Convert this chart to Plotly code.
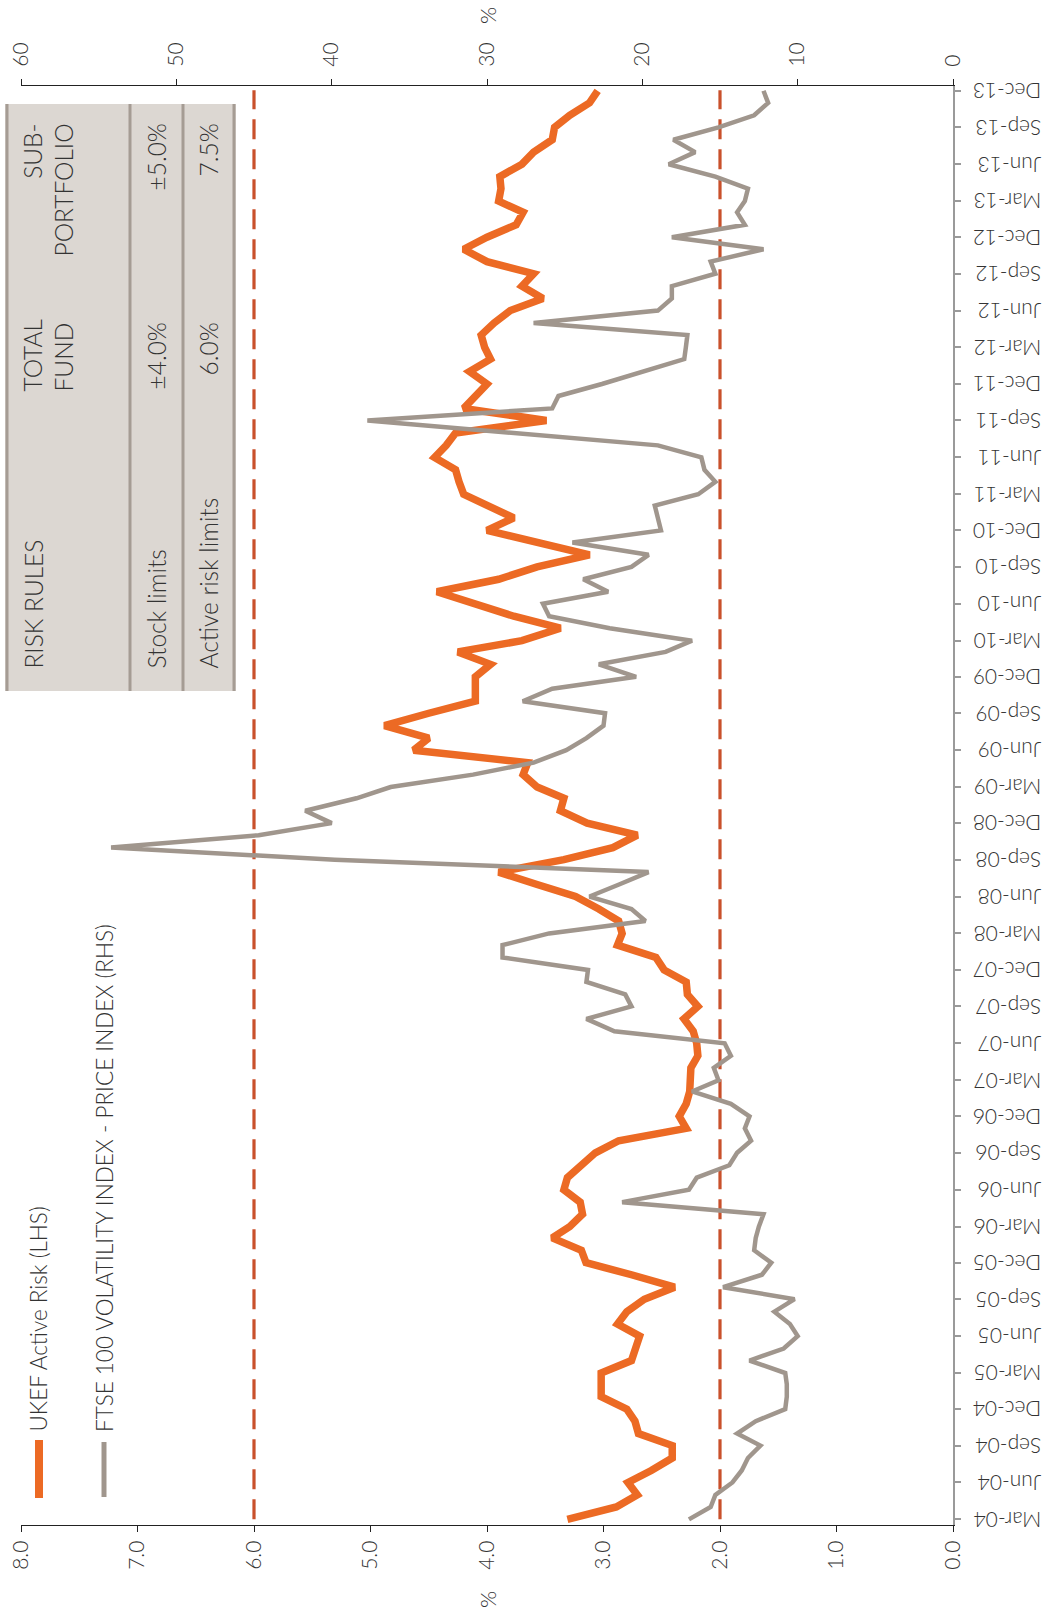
import pandas as pd
import plotly.graph_objects as go

# Monthly observations, Mar-2004 to Dec-2013
start_month = "2004-03-01"
end_month = "2013-12-01"
months = pd.date_range(start_month, end_month, freq="MS")

# UKEF active risk, % (left-hand scale)
active_risk = [
    3.31, 2.89, 2.71, 2.79, 2.59, 2.41, 2.41, 2.70, 2.73, 2.80,
    3.02, 3.02, 3.02, 2.76, 2.73, 2.69, 2.88, 2.80, 2.65, 2.39,
    2.76, 3.15, 3.19, 3.44, 3.29, 3.18, 3.20, 3.34, 3.31, 3.18,
    3.07, 2.87, 2.29, 2.35, 2.29, 2.26, 2.26, 2.25, 2.19, 2.20,
    2.23, 2.31, 2.19, 2.28, 2.29, 2.48, 2.55, 2.88, 2.84, 2.87,
    3.04, 3.24, 3.57, 3.90, 3.34, 2.92, 2.71, 3.14, 3.37, 3.34,
    3.57, 3.69, 3.65, 4.63, 4.50, 4.88, 4.50, 4.10, 4.10, 4.10,
    3.97, 4.25, 3.70, 3.37, 3.77, 4.12, 4.43, 3.90, 3.57, 3.12,
    3.60, 4.00, 3.77, 4.00, 4.20, 4.24, 4.27, 4.45, 4.35, 4.27,
    3.49, 4.20, 4.10, 4.00, 4.15, 3.97, 4.02, 4.05, 3.94, 3.80,
    3.52, 3.70, 3.60, 4.00, 4.20, 4.00, 3.75, 3.69, 3.90, 3.88,
    3.89, 3.70, 3.60, 3.44, 3.42, 3.29, 3.12, 3.05,
]

# FTSE 100 volatility index, % (right-hand scale)
ftse_vol = [
    17.0, 15.6, 15.3, 14.2, 13.6, 13.2, 12.4, 13.9, 12.7, 10.8,
    10.7, 10.7, 10.8, 13.1, 10.9, 10.0, 10.5, 11.5, 10.2, 14.8,
    12.3, 11.7, 12.8, 12.7, 12.5, 12.2, 21.3, 17.0, 16.5, 14.4,
    13.9, 13.0, 13.4, 13.1, 14.3, 16.8, 15.1, 15.4, 14.3, 14.7,
    21.8, 23.6, 20.7, 21.1, 23.6, 23.5, 29.0, 29.0, 26.0, 19.8,
    20.7, 23.4, 21.5, 19.6, 39.8, 54.2, 44.7, 40.0, 41.7, 38.4,
    36.2, 30.9, 27.0, 24.9, 23.6, 22.5, 22.4, 27.7, 25.8, 20.4,
    22.8, 18.5, 16.8, 22.1, 26.0, 26.4, 22.2, 23.8, 20.7, 19.6,
    24.5, 18.8, 19.0, 19.2, 16.4, 15.3, 16.0, 16.2, 19.0, 28.5,
    37.7, 25.8, 25.4, 22.6, 20.0, 17.3, 17.2, 17.1, 27.0, 19.0,
    18.1, 18.1, 15.3, 15.6, 12.2, 18.1, 13.4, 13.9, 13.4, 13.2,
    15.3, 18.3, 16.6, 18.0, 15.1, 12.8, 11.9, 12.2,
]

# Active risk limits (total fund / lower band), left-hand scale
risk_limits = [6.0, 2.0]

# Risk rules table
rule_rows = ["Stock limits", "Active risk limits"]
total_fund = ["±4.0%", "6.0%"]
sub_portfolio = ["±5.0%", "7.5%"]

lhs_ticks = [0, 1, 2, 3, 4, 5, 6, 7, 8]
rhs_ticks = [0, 10, 20, 30, 40, 50, 60]

ORANGE = "#ec6a24"
GREY = "#a0968d"
LIMIT = "#c9502b"
TEXT = "#333333"
FONT = "Lato, 'Open Sans', sans-serif"

W, H = 1045, 1624
ML, MR, MT, MB = 21, 92, 86, 99
PW, PH = W - ML - MR, H - MT - MB


def px(x):
    return (x - ML) / PW


def py(y):
    return (H - MB - y) / PH


fig = go.Figure()

fig.add_trace(go.Scatter(
    x=active_risk, y=months, mode="lines", xaxis="x", yaxis="y",
    line=dict(color=ORANGE, width=7.5),
    name="UKEF Active Risk (LHS)", showlegend=False,
))
fig.add_trace(go.Scatter(
    x=ftse_vol, y=months, mode="lines", xaxis="x2", yaxis="y",
    line=dict(color=GREY, width=4.5),
    name="FTSE 100 VOLATILITY INDEX - PRICE INDEX (RHS)", showlegend=False,
))

shapes = []
for lim in risk_limits:
    shapes.append(dict(
        type="line", xref="x", yref="paper", x0=lim, x1=lim, y0=0.004, y1=0.997,
        line=dict(color=LIMIT, width=3.2, dash="20px,10px"), layer="below",
    ))

# Risk rules panel
shapes.append(dict(type="rect", xref="paper", yref="paper",
                   x0=px(5), x1=px(236), y0=py(691), y1=py(104),
                   fillcolor="#dcd7d2", line=dict(width=0), layer="below"))
for xl in [7, 130, 183, 234]:
    shapes.append(dict(type="line", xref="paper", yref="paper",
                       x0=px(xl), x1=px(xl), y0=py(691), y1=py(104),
                       line=dict(color="#a59c94", width=3)))

# Legend keys
shapes.append(dict(type="line", xref="paper", yref="paper",
                   x0=px(39), x1=px(39), y0=py(1498), y1=py(1440),
                   line=dict(color=ORANGE, width=8)))
shapes.append(dict(type="line", xref="paper", yref="paper",
                   x0=px(104), x1=px(104), y0=py(1497), y1=py(1442),
                   line=dict(color=GREY, width=5)))

ann = []


def vtext(text, x, y, yanchor, size=20, align="left"):
    ann.append(dict(
        text=text, xref="paper", yref="paper", x=px(x), y=py(y),
        xanchor="center", yanchor=yanchor, textangle=-90, showarrow=False,
        align=align, font=dict(family=FONT, size=size, color=TEXT, weight=300),
    ))


vtext("UKEF Active Risk (LHS)", 38, 1434, "bottom", 22.5)
vtext("FTSE 100 VOLATILITY INDEX - PRICE INDEX (RHS)", 104, 1434, "bottom", 22.5)

vtext("RISK RULES", 33, 671, "bottom", 24.5)
vtext("TOTAL<br>FUND", 48, 394, "bottom", 24.5, "left")
vtext("SUB-<br>PORTFOLIO", 48, 122, "top", 24.5, "right")
for xc, row, tf, sp in zip([156, 208], rule_rows, total_fund, sub_portfolio):
    vtext(row, xc, 671, "bottom", 24.5)
    vtext(tf, xc, 321, "top", 24.5, "right")
    vtext(sp, xc, 122, "top", 24.5, "right")

vtext("%", 487, 1600, "middle", 22)
vtext("%", 487, 16, "middle", 22)

quarter_ticks = [d for d in months if d.month in (3, 6, 9, 12)]

num_axis = dict(
    showline=True, linecolor="#222222", linewidth=1.3, ticks="outside",
    ticklen=6, tickcolor="#222222", tickwidth=1, showgrid=False,
    zeroline=False, tickangle=-90, automargin=False,
    tickfont=dict(family=FONT, size=21, color=TEXT, weight=300),
)

fig.update_layout(
    width=W, height=H, margin=dict(l=ML, r=MR, t=MT, b=MB),
    paper_bgcolor="white", plot_bgcolor="white", showlegend=False,
    xaxis=dict(range=[8, 0], tickvals=lhs_ticks, tickformat=".1f",
               side="bottom", **num_axis),
    xaxis2=dict(range=[60, 0], tickvals=rhs_ticks, overlaying="x",
                side="top", ticklabelstandoff=8, **num_axis),
    yaxis=dict(type="date", range=["2004-02-16", "2013-12-13"], side="right",
               tickvals=quarter_ticks, tickformat="%b-%y", tickangle=180,
               ticklabelstandoff=76, ticklabelshift=6, automargin=False,
               showline=True, linecolor="#9a9a9a", linewidth=2,
               ticks="outside", ticklen=6, tickcolor="#9a9a9a", tickwidth=1.5,
               showgrid=False, zeroline=False,
               tickfont=dict(family=FONT, size=21, color=TEXT, weight=300)),
    shapes=shapes, annotations=ann,
)

fig.write_html("out.html")
